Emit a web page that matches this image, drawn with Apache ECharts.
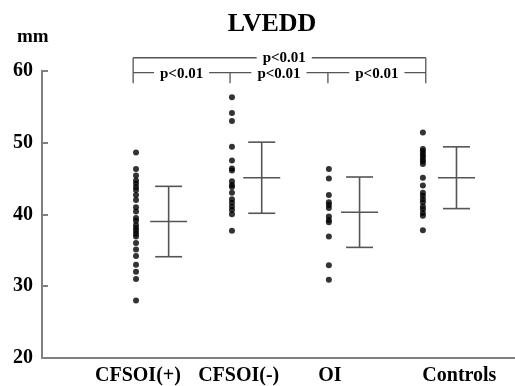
<!DOCTYPE html>
<html>
<head>
<meta charset="utf-8">
<script src="https://cdn.jsdelivr.net/npm/echarts@6/dist/echarts.min.js"></script>
<style>html,body{margin:0;padding:0;background:#fff}#c{width:515px;height:386px}</style>
</head>
<body>
<div id="c"></div>
<script>
// ---- data ----
var categories = ['CFSOI(+)', 'CFSOI(-)', 'OI', 'Controls'];
var labelX = [1.0, 2.05, 3.0, 4.35];
var dotX = [0.98, 1.98, 2.99, 3.97];
var barX = [1.32, 2.29, 3.31, 4.32];
var cfsoiPlus = [48.6, 46.3, 45.4, 44.7, 44.3, 43.8, 43.4, 42.7, 42.0, 41.0, 40.4, 39.5, 39.1, 38.5, 38.1, 37.7, 37.3, 36.9, 36.0, 35.1, 34.2, 33.0, 32.0, 31.0, 28.0];
var cfsoiMinus = [56.3, 54.1, 53.0, 49.4, 47.5, 46.4, 46.1, 44.6, 44.1, 43.8, 43.0, 42.1, 41.6, 41.1, 40.6, 40.0, 37.7];
var oi = [46.3, 45.0, 42.7, 41.7, 41.3, 40.9, 39.7, 39.2, 38.9, 36.9, 32.9, 30.9];
var controls = [51.4, 49.1, 48.8, 48.4, 48.1, 47.7, 47.4, 47.0, 45.1, 44.0, 43.0, 42.6, 42.1, 41.7, 41.1, 40.7, 40.2, 39.8, 37.8];
var means = [39.0, 45.1, 40.3, 45.1];
var sds = [4.9, 4.95, 4.9, 4.3];
var yTicks = [20, 30, 40, 50, 60];
var bracketX = [0.95, 1.96, 2.98, 4.0];
var bracketTopY = 61.8, bracketLowY = 59.72, bracketEndY = 58.25;
var pText = 'p<0.01';

// ---- build ----
var groups = [cfsoiPlus, cfsoiMinus, oi, controls];
var dots = [];
groups.forEach(function (g, i) { g.forEach(function (v) { dots.push([dotX[i], v]); }); });
var bars = means.map(function (m, i) { return [barX[i], m, sds[i]]; });
var segs = [
  [bracketX[0], bracketTopY, bracketX[3], bracketTopY],
  [bracketX[0], bracketTopY, bracketX[0], bracketEndY],
  [bracketX[3], bracketTopY, bracketX[3], bracketEndY],
  [bracketX[0], bracketLowY, bracketX[3], bracketLowY],
  [bracketX[1], bracketLowY, bracketX[1], bracketEndY],
  [bracketX[2], bracketLowY, bracketX[2], bracketEndY]
];
var pLabels = [
  [(bracketX[0] + bracketX[3]) / 2 + 0.05, bracketTopY],
  [(bracketX[0] + bracketX[1]) / 2, bracketLowY - 0.15],
  [(bracketX[1] + bracketX[2]) / 2, bracketLowY - 0.15],
  [(bracketX[2] + bracketX[3]) / 2, bracketLowY - 0.15]
];
var serif = '"Liberation Serif", "DejaVu Serif", serif';
var chart = echarts.init(document.getElementById('c'));
chart.setOption({
  animation: false,
  backgroundColor: '#fff',
  grid: { left: 42, right: 0, top: 70.7, bottom: 27.5, containLabel: false },
  graphic: [
    { type: 'text', x: 272, y: 11, style: { text: 'LVEDD', font: 'bold 26px ' + serif, fill: '#000', textAlign: 'center' } },
    { type: 'text', x: 17, y: 28, style: { text: 'mm', font: 'bold 19px ' + serif, fill: '#000' } }
  ],
  xAxis: {
    type: 'value', min: 0, max: 4.93,
    axisLine: { show: true, lineStyle: { color: '#808080', width: 2 } },
    axisTick: { show: false },
    splitLine: { show: false },
    axisLabel: {
      customValues: labelX,
      margin: 8,
      color: '#000',
      fontFamily: serif, fontWeight: 'bold', fontSize: 20,
      formatter: function (v) {
        var idx = 0, best = 1e9;
        labelX.forEach(function (x, i) { if (Math.abs(x - v) < best) { best = Math.abs(x - v); idx = i; } });
        return categories[idx];
      }
    }
  },
  yAxis: {
    type: 'value', min: 20, max: 60, interval: 10,
    axisLine: { show: true, lineStyle: { color: '#808080', width: 2 } },
    axisTick: { show: true, inside: true, length: 6, lineStyle: { color: '#808080', width: 2 } },
    splitLine: { show: false },
    axisLabel: {
      customValues: yTicks,
      margin: 9, color: '#000',
      fontFamily: serif, fontWeight: 'bold', fontSize: 20
    }
  },
  series: [
    {
      type: 'scatter', data: dots, symbol: 'circle', symbolSize: 6,
      itemStyle: { color: '#000' }, clip: false
    },
    {
      type: 'custom', data: bars, clip: false,
      renderItem: function (params, api) {
        var x = api.value(0), m = api.value(1), s = api.value(2);
        var pc = api.coord([x, m]), pt = api.coord([x, m + s]), pb = api.coord([x, m - s]);
        var st = { stroke: '#555', lineWidth: 1.6 };
        return { type: 'group', children: [
          { type: 'line', shape: { x1: pt[0], y1: pt[1], x2: pb[0], y2: pb[1] }, style: st },
          { type: 'line', shape: { x1: pt[0] - 13.5, y1: pt[1], x2: pt[0] + 13.5, y2: pt[1] }, style: st },
          { type: 'line', shape: { x1: pb[0] - 13.5, y1: pb[1], x2: pb[0] + 13.5, y2: pb[1] }, style: st },
          { type: 'line', shape: { x1: pc[0] - 18.5, y1: pc[1], x2: pc[0] + 18.5, y2: pc[1] }, style: st }
        ] };
      }
    },
    {
      type: 'custom', data: segs, clip: false,
      renderItem: function (params, api) {
        var a = api.coord([api.value(0), api.value(1)]), b = api.coord([api.value(2), api.value(3)]);
        return { type: 'line', shape: { x1: a[0], y1: a[1], x2: b[0], y2: b[1] }, style: { stroke: '#555', lineWidth: 1.3 } };
      }
    },
    {
      type: 'custom', data: pLabels, clip: false, z: 10,
      renderItem: function (params, api) {
        var p = api.coord([api.value(0), api.value(1)]);
        return { type: 'text', x: p[0], y: p[1], style: {
          text: pText, font: 'bold 15px ' + serif, fill: '#000', textAlign: 'center', textVerticalAlign: 'middle',
          backgroundColor: '#fff', padding: [0, 6]
        } };
      }
    }
  ]
});
</script>
</body>
</html>
